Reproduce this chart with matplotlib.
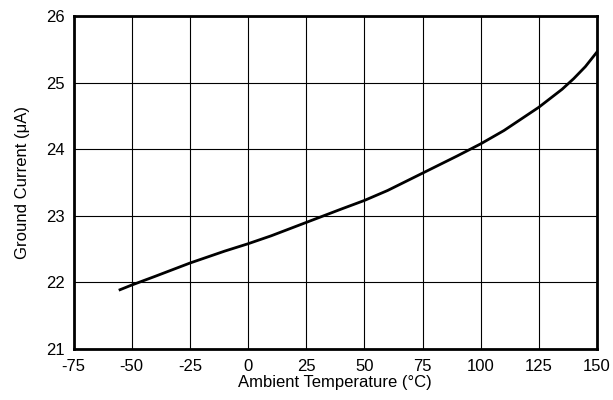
import matplotlib.pyplot as plt
import numpy as np

plt.rcParams['font.family'] = ['Liberation Sans', 'DejaVu Sans']
plt.rcParams['axes.unicode_minus'] = False

# curve
temp = [-55, -50, -40, -25, -10, 0, 10, 25, 40, 50, 60, 75, 90, 100, 110, 125, 135, 140, 145, 150]
gnd_current = [21.89, 21.96, 22.09, 22.29, 22.47, 22.58, 22.70, 22.90, 23.10, 23.23, 23.38, 23.64, 23.90, 24.08, 24.28, 24.63, 24.90, 25.06, 25.24, 25.46]

xticks = np.arange(-75, 151, 25)
yticks = np.arange(21, 27, 1)

fig = plt.figure(figsize=(6.13, 4.0), dpi=100)
ax = fig.add_axes([73.5 / 613, 1 - 349 / 400, (597 - 73.5) / 613, (349 - 16) / 400])

ax.plot(temp, gnd_current, color='black', linewidth=2)

ax.set_xlim(-75, 150)
ax.set_ylim(21, 26)
ax.set_xticks(xticks)
ax.set_yticks(yticks)
ax.grid(True, color='black', linewidth=0.8)
ax.tick_params(length=0, labelsize=12)
ax.tick_params(axis='x', pad=7)
ax.tick_params(axis='y', pad=6)
for s in ax.spines.values():
    s.set_linewidth(2)

ax.set_xlabel('Ambient Temperature (°C)', fontsize=12, labelpad=1)
ax.set_ylabel('Ground Current (μA)', fontsize=12, labelpad=12)

fig.savefig('out.png', dpi=100)
